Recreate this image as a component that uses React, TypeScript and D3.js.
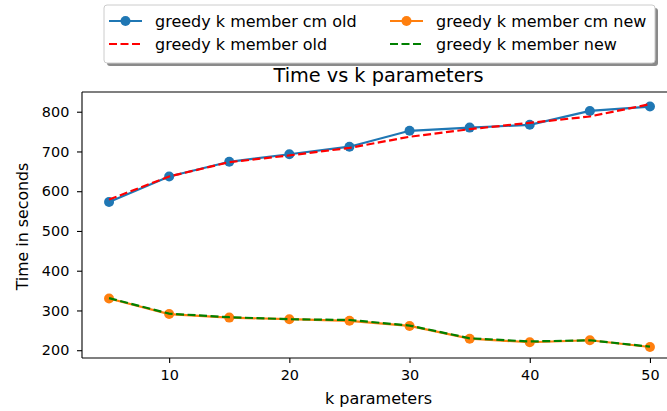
import { useEffect, useRef } from "react";
import * as d3 from "d3";

const kParams = [5, 10, 15, 20, 25, 30, 35, 40, 45, 50];
const cmOld = [573, 637, 674, 693, 712, 752, 760, 767, 802, 813];
const memberOld = [579, 637, 673, 690, 709, 737, 756, 772, 788, 819];
const cmNew = [330, 291, 282, 278, 274, 261, 229, 220, 225, 208];
const memberNew = [331, 292, 283, 278, 276, 262, 230, 222, 225, 209];
const yTicks = [200, 300, 400, 500, 600, 700, 800];
const xTicks = [10, 20, 30, 40, 50];

const seriesList = [
  { name: "greedy k member cm old", values: cmOld, color: "#1f77b4", dashed: false, marker: true },
  { name: "greedy k member old", values: memberOld, color: "#ff0000", dashed: true, marker: false },
  { name: "greedy k member cm new", values: cmNew, color: "#ff7f0e", dashed: false, marker: true },
  { name: "greedy k member new", values: memberNew, color: "#008000", dashed: true, marker: false },
];

const App = () => {
  const svgRef = useRef<SVGSVGElement>(null);

  useEffect(() => {
    const W = 667,
      H = 411;
    const margin = { top: 92, left: 82, bottom: 358, right: 677 };
    const font = "DejaVu Sans, sans-serif";
    const dash = "8,3.5";

    const svg = d3.select(svgRef.current);
    svg.selectAll("*").remove();
    svg.attr("width", W).attr("height", H);
    svg.append("rect").attr("width", W).attr("height", H).attr("fill", "#fff");

    const x = d3.scaleLinear().domain([2.75, 52.25]).range([margin.left, margin.right]);
    const y = d3.scaleLinear().domain([180.4, 849.6]).range([margin.bottom, margin.top]);

    // series
    seriesList.forEach((s) => {
      const line = d3
        .line<number>()
        .x((_, i) => x(kParams[i]))
        .y((d) => y(d));
      svg
        .append("path")
        .datum(s.values)
        .attr("fill", "none")
        .attr("stroke", s.color)
        .attr("stroke-width", 2.2)
        .attr("stroke-dasharray", s.dashed ? dash : null)
        .attr("d", line);
      if (s.marker) {
        svg
          .append("g")
          .selectAll("circle")
          .data(s.values)
          .enter()
          .append("circle")
          .attr("cx", (_, i) => x(kParams[i]))
          .attr("cy", (d) => y(d))
          .attr("r", 5)
          .attr("fill", s.color);
      }
    });

    // spines
    const spine = svg.append("g").attr("stroke", "#000").attr("stroke-width", 1.1).attr("fill", "none");
    spine.append("line").attr("x1", margin.left).attr("x2", margin.left).attr("y1", margin.top).attr("y2", margin.bottom);
    spine.append("line").attr("x1", margin.left).attr("x2", W).attr("y1", margin.top).attr("y2", margin.top);
    spine.append("line").attr("x1", margin.left).attr("x2", W).attr("y1", margin.bottom).attr("y2", margin.bottom);

    // y axis
    const yAxis = svg
      .append("g")
      .attr("transform", `translate(${margin.left},0)`)
      .call(d3.axisLeft(y).tickValues(yTicks).tickSize(5).tickPadding(7.7));
    yAxis.select(".domain").remove();
    yAxis.selectAll("text").attr("font-family", font).attr("font-size", 14.4).attr("fill", "#000");
    yAxis.selectAll("line").attr("stroke", "#000").attr("stroke-width", 1.1);

    // x axis
    const xAxis = svg
      .append("g")
      .attr("transform", `translate(0,${margin.bottom})`)
      .call(d3.axisBottom(x).tickValues(xTicks).tickSize(5).tickPadding(7));
    xAxis.select(".domain").remove();
    xAxis.selectAll("text").attr("font-family", font).attr("font-size", 14.4).attr("fill", "#000");
    xAxis.selectAll("line").attr("stroke", "#000").attr("stroke-width", 1.1);

    // labels
    svg
      .append("text")
      .attr("x", 378.5)
      .attr("y", 82)
      .attr("text-anchor", "middle")
      .attr("font-family", font)
      .attr("font-size", 19.3)
      .text("Time vs k parameters");
    svg
      .append("text")
      .attr("x", 378.5)
      .attr("y", 404)
      .attr("text-anchor", "middle")
      .attr("font-family", font)
      .attr("font-size", 16)
      .text("k parameters");
    svg
      .append("text")
      .attr("transform", `translate(27.5,226.5) rotate(-90)`)
      .attr("text-anchor", "middle")
      .attr("font-family", font)
      .attr("font-size", 15.8)
      .text("Time in seconds");

    // legend
    const lg = svg.append("g");
    const lx = 104,
      ly = 5,
      lw = 551,
      lh = 58;
    lg.append("rect")
      .attr("x", lx + 3)
      .attr("y", ly + 3)
      .attr("width", lw)
      .attr("height", lh)
      .attr("rx", 3)
      .attr("fill", "#8a8a8a");
    lg.append("rect")
      .attr("x", lx)
      .attr("y", ly)
      .attr("width", lw)
      .attr("height", lh)
      .attr("rx", 3)
      .attr("fill", "#fff")
      .attr("stroke", "#cccccc")
      .attr("stroke-width", 1);
    const colX = [109, 390];
    const rowY = [21, 44];
    seriesList.forEach((s, i) => {
      const cx = colX[Math.floor(i / 2)];
      const cy = rowY[i % 2];
      lg.append("line")
        .attr("x1", cx)
        .attr("x2", cx + 33)
        .attr("y1", cy)
        .attr("y2", cy)
        .attr("stroke", s.color)
        .attr("stroke-width", 2.2)
        .attr("stroke-dasharray", s.dashed ? dash : null);
      if (s.marker) {
        lg.append("circle").attr("cx", cx + 16.5).attr("cy", cy).attr("r", 5).attr("fill", s.color);
      }
      lg.append("text")
        .attr("x", cx + 46)
        .attr("y", cy)
        .attr("dy", "0.35em")
        .attr("font-family", font)
        .attr("font-size", 16)
        .text(s.name);
    });
  }, []);

  return (
    <div style={{ position: "fixed", left: 0, top: 0 }}>
      <svg ref={svgRef} style={{ display: "block" }}></svg>
    </div>
  );
};

export default App;
